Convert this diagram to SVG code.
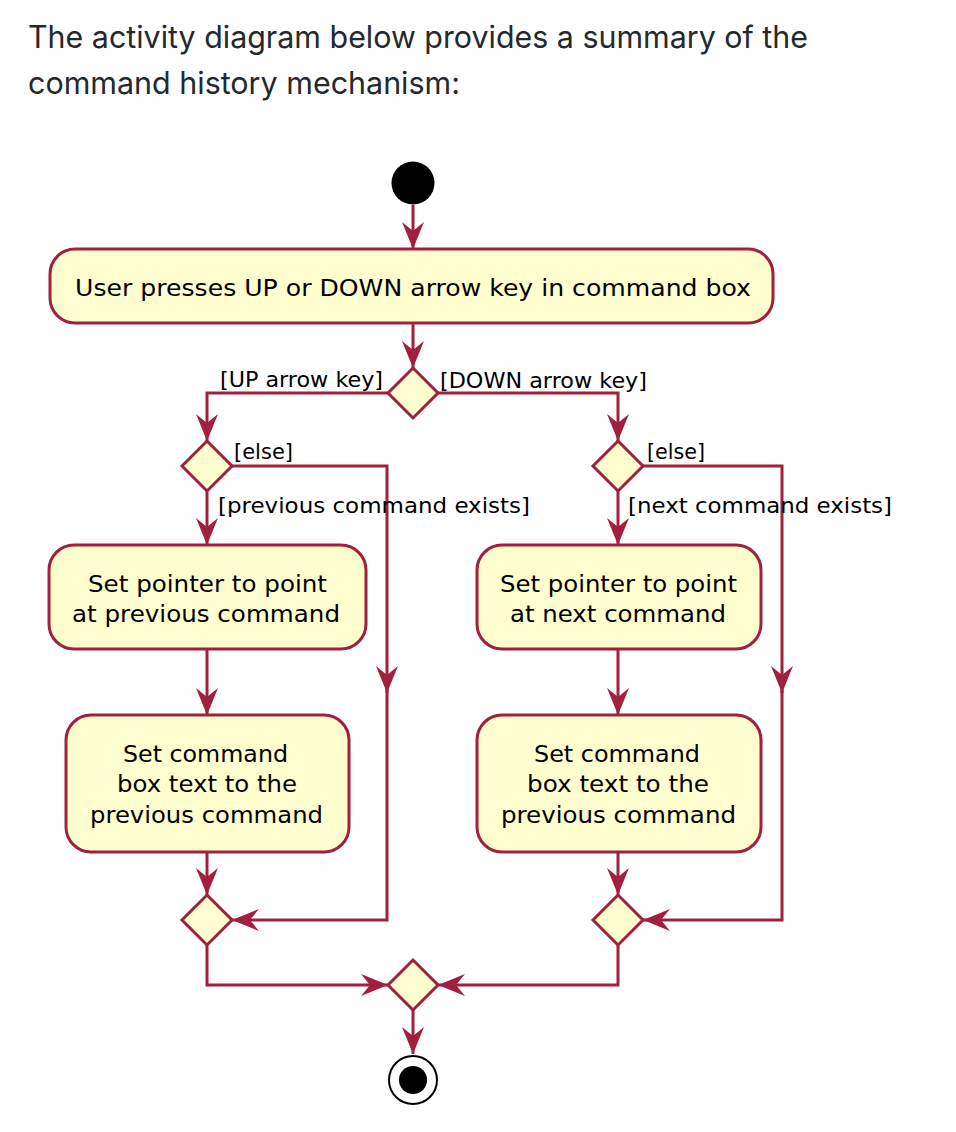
<svg xmlns="http://www.w3.org/2000/svg" width="956" height="1132" viewBox="0 0 956 1132">
<style>
.heading{font-family:Inter,"Liberation Sans",sans-serif;font-size:31px;fill:#24292e}
.box{fill:#FEFECE;stroke:#A0203D;stroke-width:3}
.dia{fill:#FEFECE;stroke:#A0203D;stroke-width:3}
.t{font-family:"DejaVu Sans","Noto Sans",sans-serif;font-size:23px;fill:#000}
.lbl{font-family:"DejaVu Sans","Noto Sans",sans-serif;font-size:22px;fill:#000}
.c{fill:none;stroke:#A0203D;stroke-width:3}
.ah{marker-end:url(#arr)}
</style>
<defs>
<marker id="arr" markerUnits="userSpaceOnUse" viewBox="-28 -12 30 24" markerWidth="30" markerHeight="24" refX="0" refY="0" orient="auto">
<path d="M0,0 L-27,-11 L-18,0 L-27,11 Z" fill="#A0203D"/>
</marker>
</defs>
<rect width="956" height="1132" fill="#fff"/>
<g id="heading">
<text class="heading" x="28" y="48" textLength="780" lengthAdjust="spacingAndGlyphs">The activity diagram below provides a summary of the</text>
<text class="heading" x="28" y="94" textLength="432" lengthAdjust="spacingAndGlyphs">command history mechanism:</text>
</g>
<g id="connectors">
<path class="c ah" d="M413,205 L413,249"/>
<path class="c ah" d="M413,323 L413,368"/>
<path class="c ah" d="M388,393 L207,393 L207,441"/>
<path class="c ah" d="M438,393 L618,393 L618,441"/>
<path class="c ah" d="M207,491 L207,545"/>
<path class="c ah" d="M207,649 L207,715"/>
<path class="c ah" d="M207,852 L207,895"/>
<path class="c ah" d="M232,466 L387,466 L387,693"/>
<path class="c ah" d="M387,690 L387,920 L232,920"/>
<path class="c ah" d="M207,945 L207,985 L388,985"/>
<path class="c ah" d="M618,491 L618,545"/>
<path class="c ah" d="M618,649 L618,715"/>
<path class="c ah" d="M618,852 L618,895"/>
<path class="c ah" d="M643,466 L782,466 L782,693"/>
<path class="c ah" d="M782,690 L782,920 L643,920"/>
<path class="c ah" d="M618,945 L618,985 L438,985"/>
<path class="c ah" d="M413,1010 L413,1054"/>
</g>
<g id="start"><circle cx="413" cy="183" r="21.5" fill="#000"/></g>
<g id="input">
<rect class="box" x="50" y="249" width="723" height="74" rx="25"/>
<text class="t" x="75" y="296" textLength="676" lengthAdjust="spacingAndGlyphs">User presses UP or DOWN arrow key in command box</text>
</g>
<g id="keyDecision">
<path class="dia" d="M413,368 L438,393 L413,418 L388,393 Z"/>
<text class="lbl" x="220" y="387" textLength="163" lengthAdjust="spacingAndGlyphs">[UP arrow key]</text>
<text class="lbl" x="440" y="388" textLength="207" lengthAdjust="spacingAndGlyphs">[DOWN arrow key]</text>
</g>
<g id="prevDecision">
<path class="dia" d="M207,441 L232,466 L207,491 L182,466 Z"/>
<text class="lbl" x="234" y="459" textLength="59" lengthAdjust="spacingAndGlyphs">[else]</text>
<text class="lbl" x="218" y="513" textLength="312" lengthAdjust="spacingAndGlyphs">[previous command exists]</text>
</g>
<g id="nextDecision">
<path class="dia" d="M618,441 L643,466 L618,491 L593,466 Z"/>
<text class="lbl" x="647" y="459" textLength="58" lengthAdjust="spacingAndGlyphs">[else]</text>
<text class="lbl" x="628" y="513" textLength="264" lengthAdjust="spacingAndGlyphs">[next command exists]</text>
</g>
<g id="setPrevPointer">
<rect class="box" x="49" y="545" width="317" height="104" rx="25"/>
<text class="t" x="88" y="592" textLength="239" lengthAdjust="spacingAndGlyphs">Set pointer to point</text>
<text class="t" x="72" y="622" textLength="268" lengthAdjust="spacingAndGlyphs">at previous command</text>
</g>
<g id="setPrevText">
<rect class="box" x="66" y="715" width="283" height="137" rx="25"/>
<text class="t" x="123" y="762" textLength="165" lengthAdjust="spacingAndGlyphs">Set command</text>
<text class="t" x="117" y="792" textLength="180" lengthAdjust="spacingAndGlyphs">box text to the</text>
<text class="t" x="90" y="823" textLength="233" lengthAdjust="spacingAndGlyphs">previous command</text>
</g>
<g id="setNextPointer">
<rect class="box" x="477" y="545" width="284" height="104" rx="25"/>
<text class="t" x="500" y="592" textLength="237" lengthAdjust="spacingAndGlyphs">Set pointer to point</text>
<text class="t" x="510" y="622" textLength="216" lengthAdjust="spacingAndGlyphs">at next command</text>
</g>
<g id="setNextText">
<rect class="box" x="477" y="715" width="284" height="137" rx="25"/>
<text class="t" x="534" y="762" textLength="166" lengthAdjust="spacingAndGlyphs">Set command</text>
<text class="t" x="527" y="792" textLength="182" lengthAdjust="spacingAndGlyphs">box text to the</text>
<text class="t" x="501" y="823" textLength="235" lengthAdjust="spacingAndGlyphs">previous command</text>
</g>
<g id="mergeLeft"><path class="dia" d="M207,895 L232,920 L207,945 L182,920 Z"/></g>
<g id="mergeRight"><path class="dia" d="M618,895 L643,920 L618,945 L593,920 Z"/></g>
<g id="mergeFinal"><path class="dia" d="M413,960 L438,985 L413,1010 L388,985 Z"/></g>
<g id="end">
<circle cx="413" cy="1080" r="24" fill="#fff" stroke="#000" stroke-width="2"/>
<circle cx="413" cy="1080" r="14" fill="#000"/>
</g>
</svg>
